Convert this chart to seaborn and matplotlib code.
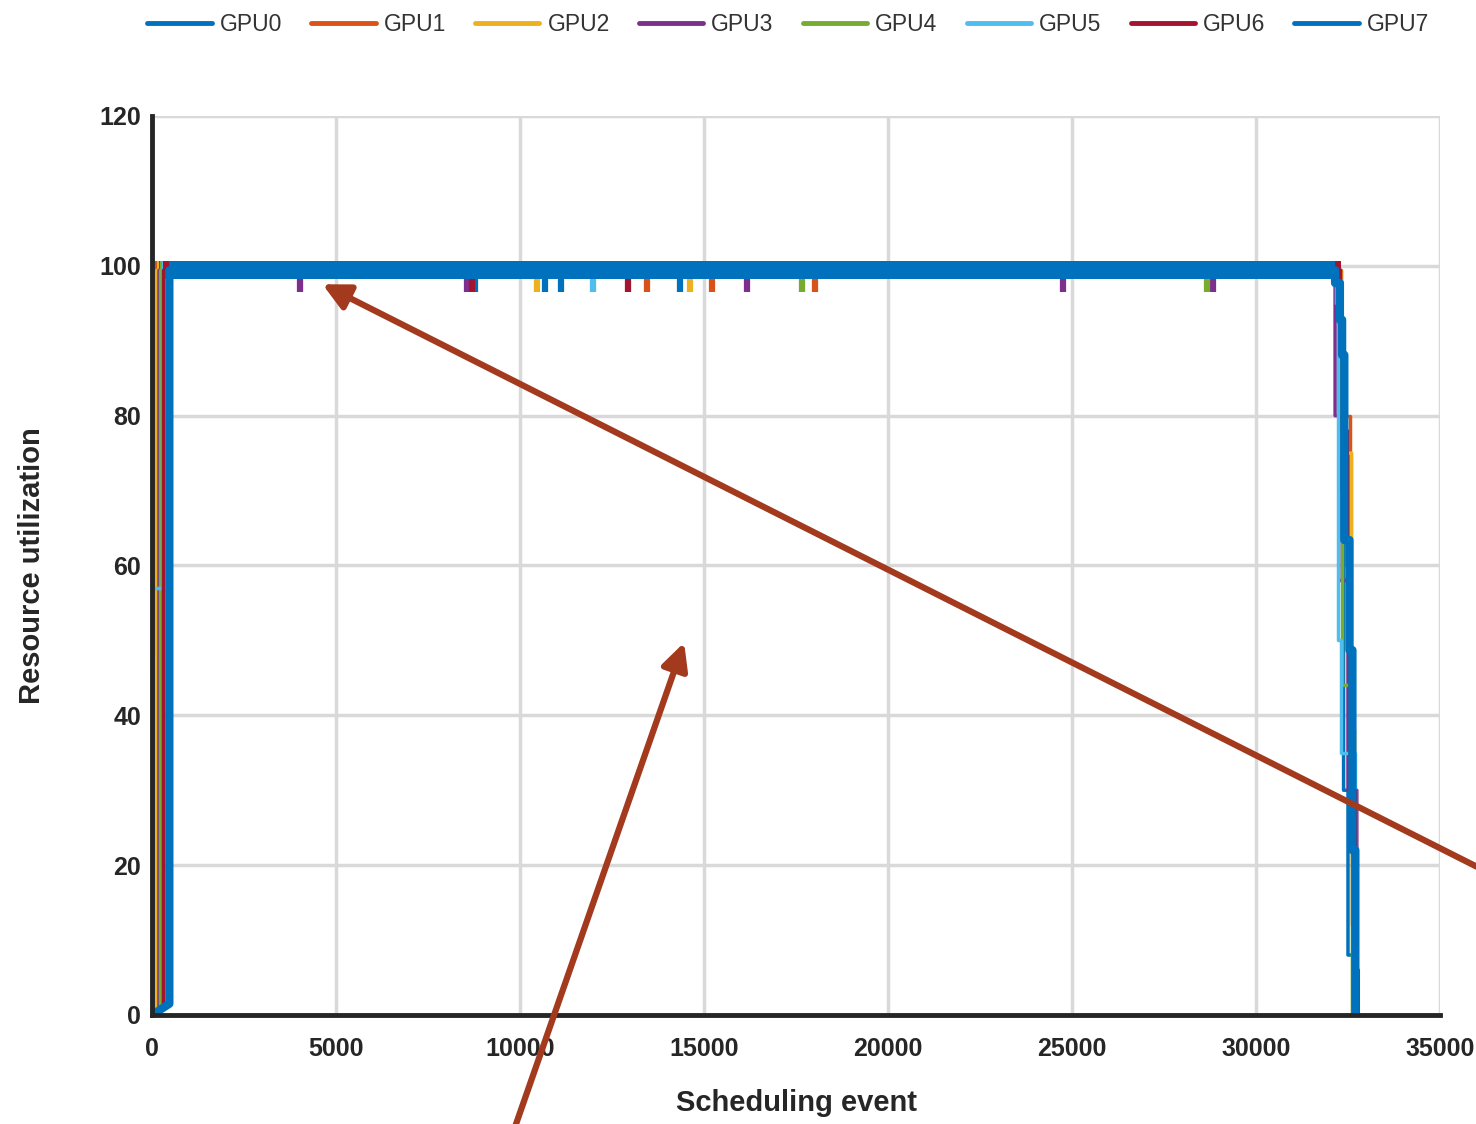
import numpy as np
import pandas as pd
import seaborn as sns
import matplotlib.pyplot as plt
from matplotlib.lines import Line2D

# GPU utilisation traces (scheduling event, utilisation %)
gpus = ["GPU0", "GPU1", "GPU2", "GPU3", "GPU4", "GPU5", "GPU6", "GPU7"]
colors = ["#0072BD", "#D95319", "#EDB120", "#7E2F8E", "#77AC30", "#4DBEEE", "#A2142F", "#0072BD"]

gpu0_x = [0, 40, 40, 32300, 32300, 32380, 32380, 32500, 32500, 32650, 32650]
gpu0_y = [0, 0.3, 99.4, 99.4, 70, 70, 30, 30, 8, 8, 0]
gpu1_x = [0, 0, 90, 90, 32300, 32300, 32560, 32560, 32620, 32620, 32700, 32700]
gpu1_y = [0, 48, 48, 99.4, 99.4, 80, 80, 35, 35, 12, 12, 0]
gpu2_x = [0, 130, 130, 32320, 32320, 32600, 32600, 32680, 32680]
gpu2_y = [0, 0.6, 99.4, 99.4, 75, 75, 38, 38, 0]
gpu3_x = [0, 190, 190, 32150, 32150, 32250, 32250, 32500, 32500, 32740, 32740, 32780, 32780]
gpu3_y = [0, 0.8, 99.4, 99.4, 80, 80, 58, 58, 30, 30, 6, 6, 0]
gpu4_x = [0, 230, 230, 32250, 32250, 32350, 32350, 32620, 32620]
gpu4_y = [0, 0.9, 99.4, 99.4, 90, 90, 44, 44, 0]
gpu5_x = [0, 0, 270, 270, 32180, 32180, 32230, 32230, 32300, 32300, 32700, 32700]
gpu5_y = [0, 57, 57, 99.4, 99.4, 95, 95, 50, 50, 35, 35, 0]
gpu6_x = [0, 310, 310, 32300, 32300, 32350, 32350, 32480, 32480, 32560, 32560, 32700, 32700, 32760, 32760]
gpu6_y = [0, 1.1, 99.4, 99.4, 90, 90, 78, 78, 60, 60, 30, 30, 5, 5, 0]
gpu7_x = [0, 470, 470, 32150, 32150, 32280, 32280, 32340, 32340, 32400, 32400,
          32540, 32540, 32620, 32620, 32700, 32700]
gpu7_y = [0, 1.5, 99.4, 99.4, 97.7, 97.7, 92.8, 92.8, 88.1, 88.1, 63.4,
          63.4, 48.7, 48.7, 22, 22, 0]

traces_x = [gpu0_x, gpu1_x, gpu2_x, gpu3_x, gpu4_x, gpu5_x, gpu6_x, gpu7_x]
traces_y = [gpu0_y, gpu1_y, gpu2_y, gpu3_y, gpu4_y, gpu5_y, gpu6_y, gpu7_y]

# plateau band (values jitter between ~98 and ~100)
plateau_start = [40, 90, 130, 190, 230, 270, 310, 470]
plateau_end = [32300, 32300, 32320, 32150, 32250, 32180, 32300, 32150]
band_lo, band_hi = 98.2, 100.6

# short dips below the band
dips = [[8780, 10680, 11110, 14350],
        [13450, 15220, 18020],
        [10460, 14620],
        [4020, 8560, 16170, 24760, 28830],
        [17660, 28670],
        [11990],
        [8700, 12930],
        []]
dip_low = 96.5

sns.set_style("white")
plt.rcParams["font.family"] = ["Liberation Sans", "DejaVu Sans"]
ink = "#262626"

fig = plt.figure(figsize=(14.76, 11.24), dpi=100)
ax = fig.add_axes([0.103, 0.097, 0.8726, 0.7998])

for i, g in enumerate(gpus):
    df = pd.DataFrame({"event": traces_x[i], "util": traces_y[i]})
    lw = 6 if g == "GPU7" else 2.5
    ax.vlines(dips[i], dip_low, band_lo + 0.3, colors=colors[i], lw=4.5, zorder=2 + i)
    sns.lineplot(data=df, x="event", y="util", sort=False, estimator=None,
                 color=colors[i], lw=lw, ax=ax, zorder=3 + i)
    ax.fill_between([plateau_start[i], plateau_end[i]], band_lo, band_hi,
                    color=colors[i], lw=0, zorder=3 + i)

ax.set_xlim(0, 35000)
ax.set_ylim(0, 120)
ax.set_xticks(range(0, 35001, 5000))
ax.set_yticks(range(0, 121, 20))
ax.grid(True, color="#d9d9d9", lw=2.5)
ax.set_axisbelow(True)
for s in ["top", "right"]:
    ax.spines[s].set_visible(False)
for s in ["left", "bottom"]:
    ax.spines[s].set_linewidth(3.5)
    ax.spines[s].set_color(ink)
    ax.spines[s].set_zorder(20)
ax.tick_params(direction="in", length=9, width=2, colors=ink, labelsize=18)
ax.tick_params(axis="x", pad=16)
ax.tick_params(axis="y", pad=8)
for lab in ax.get_xticklabels() + ax.get_yticklabels():
    lab.set_fontweight("bold")
ax.set_xlabel("Scheduling event", fontsize=21, fontweight="bold", color=ink, labelpad=20)
ax.set_ylabel("Resource utilization", fontsize=21, fontweight="bold", color=ink, labelpad=38)

handles = [Line2D([], [], color=c, lw=3.5) for c in colors]
fig.legend(handles, gpus, loc="upper center", bbox_to_anchor=(0.534, 1.007), ncol=8,
           frameon=False, fontsize=16.5, handlelength=2.8, handletextpad=0.35,
           columnspacing=1.28, labelcolor="#333333")

# annotation arrows (figure coordinates)
arrow_c = "#a33a1d"
ax.annotate("", xy=(0.2168, 0.7482), xycoords="figure fraction",
            xytext=(1.02, 0.216), textcoords="figure fraction",
            arrowprops=dict(arrowstyle="-|>", color=arrow_c, lw=4.5, mutation_scale=40),
            annotation_clip=False, zorder=30)
ax.annotate("", xy=(0.4641, 0.4306), xycoords="figure fraction",
            xytext=(0.3435, -0.023), textcoords="figure fraction",
            arrowprops=dict(arrowstyle="-|>", color=arrow_c, lw=4.5, mutation_scale=40),
            annotation_clip=False, zorder=30)

fig.savefig("out.png", dpi=100)
